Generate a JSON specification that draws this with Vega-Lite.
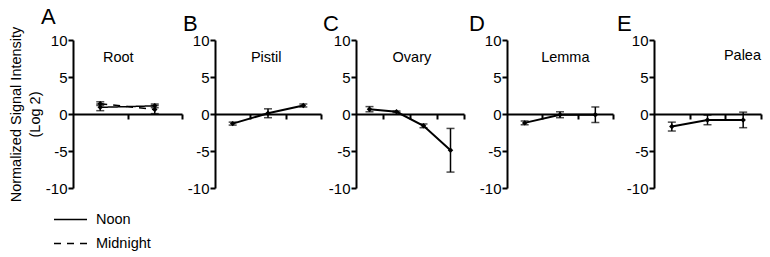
{
  "$schema": "https://vega.github.io/schema/vega-lite/v6.json",
  "padding": {"left": 8, "top": 6, "right": 5, "bottom": 5},
  "config": {
    "font": "Liberation Sans",
    "view": {"stroke": null},
    "axis": {"domainColor": "black", "domainWidth": 2, "tickColor": "black", "tickWidth": 2, "tickSize": 5, "labelColor": "black", "labelFontSize": 15, "labelPadding": 1, "grid": false, "titleColor": "black", "titleFontWeight": "normal"},
    "title": {"anchor": "start", "frame": "group", "fontSize": 22, "fontWeight": "normal", "color": "black", "offset": -3}
  },
  "datasets": {
    "expr": [
      {"tissue": "Root", "time": "Noon", "stage": 1, "value": 0.9, "err": 0.45},
      {"tissue": "Root", "time": "Noon", "stage": 2, "value": 1.1, "err": 0.25},
      {"tissue": "Root", "time": "Midnight", "stage": 1, "value": 1.4, "err": 0.25},
      {"tissue": "Root", "time": "Midnight", "stage": 2, "value": 0.6, "err": 0.55},
      {"tissue": "Pistil", "time": "Noon", "stage": 1, "value": -1.3, "err": 0.2},
      {"tissue": "Pistil", "time": "Noon", "stage": 2, "value": 0.1, "err": 0.6},
      {"tissue": "Pistil", "time": "Noon", "stage": 3, "value": 1.15, "err": 0.2},
      {"tissue": "Ovary", "time": "Noon", "stage": 1, "value": 0.65, "err": 0.35},
      {"tissue": "Ovary", "time": "Noon", "stage": 2, "value": 0.3, "err": 0.1},
      {"tissue": "Ovary", "time": "Noon", "stage": 3, "value": -1.6, "err": 0.25},
      {"tissue": "Ovary", "time": "Noon", "stage": 4, "value": -4.9, "err": 2.95},
      {"tissue": "Lemma", "time": "Noon", "stage": 1, "value": -1.2, "err": 0.25},
      {"tissue": "Lemma", "time": "Noon", "stage": 2, "value": -0.1, "err": 0.4},
      {"tissue": "Lemma", "time": "Noon", "stage": 3, "value": -0.1, "err": 1.05},
      {"tissue": "Palea", "time": "Noon", "stage": 1, "value": -1.7, "err": 0.6},
      {"tissue": "Palea", "time": "Noon", "stage": 2, "value": -0.8, "err": 0.65},
      {"tissue": "Palea", "time": "Noon", "stage": 3, "value": -0.8, "err": 1.05}
    ]
  },
  "spacing": 0,
  "hconcat": [
    {
      "width": 109, "height": 148,
      "title": {"text": "A", "dx": -32},
      "data": {"name": "expr"},
      "transform": [{"filter": "datum.tissue === 'Root'"}],
      "encoding": {
        "x": {"field": "stage", "type": "quantitative", "scale": {"domain": [0.5, 2.5], "nice": false, "zero": false}, "axis": {"orient": "bottom", "offset": -74, "values": [1.5, 2.5], "labels": false, "title": null}},
        "y": {"field": "value", "type": "quantitative", "scale": {"domain": [-10, 10], "nice": false}, "axis": {"values": [-10, -5, 0, 5, 10], "labelExpr": "'' + datum.value", "title": ["Normalized Signal Intensity", "(Log 2)"], "titleFontSize": 14.5, "titlePadding": 3, "titleLineHeight": 19, "minExtent": 28}}
      },
      "layer": [
        {"mark": {"type": "line", "color": "black", "strokeWidth": 1.5},
         "encoding": {"strokeDash": {"field": "time", "type": "nominal", "scale": {"domain": ["Noon", "Midnight"], "range": [[1, 0], [7, 6]]},
           "legend": {"title": null, "orient": "none", "legendX": -20, "legendY": 162, "symbolType": "stroke", "symbolSize": 1089, "symbolStrokeWidth": 1.5, "symbolStrokeColor": "black", "labelFontSize": 14.5, "labelColor": "black", "labelOffset": 8, "rowPadding": -8}}}},
        {"mark": {"type": "errorbar", "ticks": true, "color": "black", "thickness": 1.5, "size": 8}, "encoding": {"yError": {"field": "err"}}},
        {"mark": {"type": "point", "shape": "diamond", "filled": true, "color": "black", "size": 30, "opacity": 1}},
        {"transform": [{"filter": "datum.stage === 1 && datum.time === 'Noon'"}], "mark": {"type": "text", "text": "Root", "fontSize": 14.5, "color": "black"}, "encoding": {"x": {"datum": 1.33, "type": "quantitative"}, "y": {"datum": 7.6, "type": "quantitative"}}}
      ]
    },
    {
      "width": 106, "height": 148,
      "title": {"text": "B", "dx": -32},
      "data": {"name": "expr"},
      "transform": [{"filter": "datum.tissue === 'Pistil'"}],
      "encoding": {
        "x": {"field": "stage", "type": "quantitative", "scale": {"domain": [0.5, 3.5], "nice": false, "zero": false}, "axis": {"orient": "bottom", "offset": -74, "values": [1.5, 2.5, 3.5], "labels": false, "title": null}},
        "y": {"field": "value", "type": "quantitative", "scale": {"domain": [-10, 10], "nice": false}, "axis": {"values": [-10, -5, 0, 5, 10], "labelExpr": "'' + datum.value", "title": null, "minExtent": 28}}
      },
      "layer": [
        {"mark": {"type": "line", "color": "black", "strokeWidth": 2}},
        {"mark": {"type": "errorbar", "ticks": true, "color": "black", "thickness": 1.5, "size": 8}, "encoding": {"yError": {"field": "err"}}},
        {"mark": {"type": "point", "shape": "diamond", "filled": true, "color": "black", "size": 30, "opacity": 1}},
        {"transform": [{"filter": "datum.stage === 1"}], "mark": {"type": "text", "text": "Pistil", "fontSize": 14.5, "color": "black"}, "encoding": {"x": {"datum": 1.95, "type": "quantitative"}, "y": {"datum": 7.6, "type": "quantitative"}}}
      ]
    },
    {
      "width": 108, "height": 148,
      "title": {"text": "C", "dx": -33},
      "data": {"name": "expr"},
      "transform": [{"filter": "datum.tissue === 'Ovary'"}],
      "encoding": {
        "x": {"field": "stage", "type": "quantitative", "scale": {"domain": [0.5, 4.5], "nice": false, "zero": false}, "axis": {"orient": "bottom", "offset": -74, "values": [1.5, 2.5, 3.5, 4.5], "labels": false, "title": null}},
        "y": {"field": "value", "type": "quantitative", "scale": {"domain": [-10, 10], "nice": false}, "axis": {"values": [-10, -5, 0, 5, 10], "labelExpr": "'' + datum.value", "title": null, "minExtent": 34}}
      },
      "layer": [
        {"mark": {"type": "line", "color": "black", "strokeWidth": 2}},
        {"mark": {"type": "errorbar", "ticks": true, "color": "black", "thickness": 1.5, "size": 8}, "encoding": {"yError": {"field": "err"}}},
        {"mark": {"type": "point", "shape": "diamond", "filled": true, "color": "black", "size": 30, "opacity": 1}},
        {"transform": [{"filter": "datum.stage === 1"}], "mark": {"type": "text", "text": "Ovary", "fontSize": 14.5, "color": "black"}, "encoding": {"x": {"datum": 2.57, "type": "quantitative"}, "y": {"datum": 7.6, "type": "quantitative"}}}
      ]
    },
    {
      "width": 106, "height": 148,
      "title": {"text": "D", "dx": -38},
      "data": {"name": "expr"},
      "transform": [{"filter": "datum.tissue === 'Lemma'"}],
      "encoding": {
        "x": {"field": "stage", "type": "quantitative", "scale": {"domain": [0.5, 3.5], "nice": false, "zero": false}, "axis": {"orient": "bottom", "offset": -74, "values": [1.5, 2.5, 3.5], "labels": false, "title": null}},
        "y": {"field": "value", "type": "quantitative", "scale": {"domain": [-10, 10], "nice": false}, "axis": {"values": [-10, -5, 0, 5, 10], "labelExpr": "'' + datum.value", "title": null, "minExtent": 42}}
      },
      "layer": [
        {"mark": {"type": "line", "color": "black", "strokeWidth": 2}},
        {"mark": {"type": "errorbar", "ticks": true, "color": "black", "thickness": 1.5, "size": 8}, "encoding": {"yError": {"field": "err"}}},
        {"mark": {"type": "point", "shape": "diamond", "filled": true, "color": "black", "size": 30, "opacity": 1}},
        {"transform": [{"filter": "datum.stage === 1"}], "mark": {"type": "text", "text": "Lemma", "fontSize": 14.5, "color": "black"}, "encoding": {"x": {"datum": 2.15, "type": "quantitative"}, "y": {"datum": 7.6, "type": "quantitative"}}}
      ]
    },
    {
      "width": 107, "height": 148,
      "title": {"text": "E", "dx": -37},
      "data": {"name": "expr"},
      "transform": [{"filter": "datum.tissue === 'Palea'"}],
      "encoding": {
        "x": {"field": "stage", "type": "quantitative", "scale": {"domain": [0.5, 3.5], "nice": false, "zero": false}, "axis": {"orient": "bottom", "offset": -74, "values": [1.5, 2.5, 3.5], "labels": false, "title": null}},
        "y": {"field": "value", "type": "quantitative", "scale": {"domain": [-10, 10], "nice": false}, "axis": {"values": [-10, -5, 0, 5, 10], "labelExpr": "'' + datum.value", "title": null, "minExtent": 40}}
      },
      "layer": [
        {"mark": {"type": "line", "color": "black", "strokeWidth": 2}},
        {"mark": {"type": "errorbar", "ticks": true, "color": "black", "thickness": 1.5, "size": 8}, "encoding": {"yError": {"field": "err"}}},
        {"mark": {"type": "point", "shape": "diamond", "filled": true, "color": "black", "size": 30, "opacity": 1}},
        {"transform": [{"filter": "datum.stage === 1"}], "mark": {"type": "text", "text": "Palea", "fontSize": 14.5, "color": "black"}, "encoding": {"x": {"datum": 2.98, "type": "quantitative"}, "y": {"datum": 7.8, "type": "quantitative"}}}
      ]
    }
  ]
}
